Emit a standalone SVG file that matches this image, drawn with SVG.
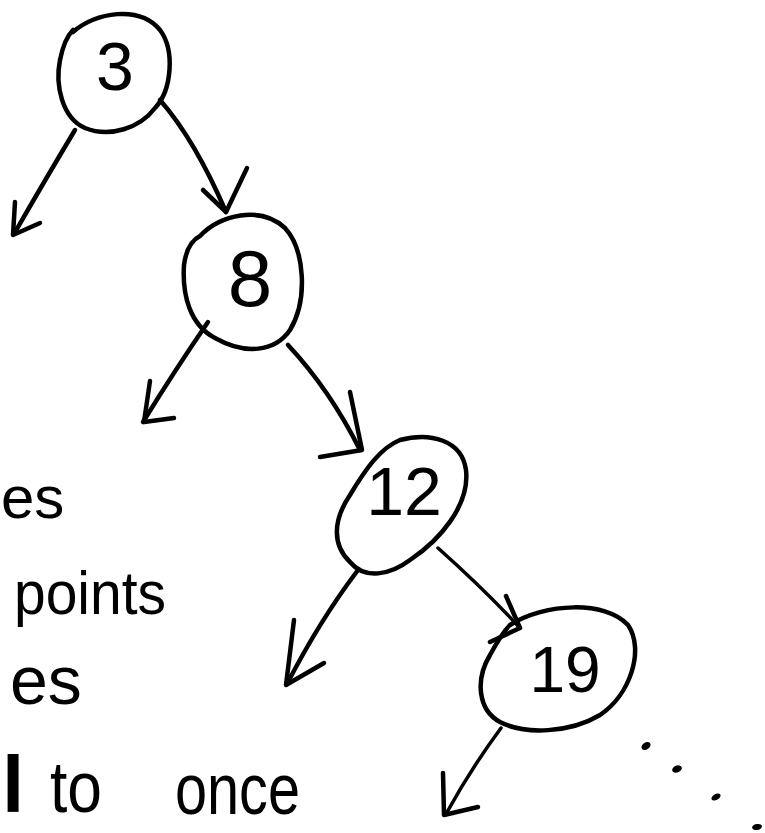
<svg xmlns="http://www.w3.org/2000/svg" width="765" height="833" viewBox="0 0 765 833">
  <style>
    .ink { fill: none; stroke: #000; stroke-width: 4.5; stroke-linecap: round; stroke-linejoin: round; }
    .thin { fill: none; stroke: #000; stroke-width: 3.5; stroke-linecap: round; stroke-linejoin: round; }
    .num { font-family: "Liberation Sans", "DejaVu Sans", sans-serif; font-weight: normal; fill: #000; text-anchor: middle; }
    .note { font-family: "Liberation Sans", "DejaVu Sans", sans-serif; fill: #000; }
  </style>
  <rect width="765" height="833" fill="#fff"/>

  <!-- edges -->
  <g id="connectors">
    <!-- 3 -> left (null) -->
    <path class="ink" d="M75,130 Q45,180 14,234"/>
    <path class="ink" d="M15,202 L13,235 L40,223"/>
    <!-- 3 -> 8 -->
    <path class="ink" d="M160,100 Q195,140 226,212"/>
    <path class="ink" d="M203,190 L226,212 L247,168"/>
    <!-- 8 -> left (null) -->
    <path class="ink" d="M208,322 Q175,370 143,422"/>
    <path class="ink" d="M150,381 L144,422 L174,418"/>
    <!-- 8 -> 12 -->
    <path class="ink" d="M288,345 Q330,390 360,450"/>
    <path class="ink" d="M350,392 L362,450 L320,457"/>
    <!-- 12 -> left (null) -->
    <path class="ink" d="M358,570 Q320,620 287,684"/>
    <path class="ink" d="M294,620 L286,685 L324,663"/>
    <!-- 12 -> 19 -->
    <path class="thin" d="M438,548 Q485,590 520,628"/>
    <path class="ink" d="M506,596 L520,628 L490,642"/>
    <!-- 19 -> left (null) -->
    <path class="thin" d="M501,728 Q470,770 446,814"/>
    <path class="ink" d="M443,773 L444,815 L478,807"/>
  </g>

  <!-- nodes -->
  <g id="node-3">
    <path class="ink" d="M73,32 C95,12 140,5 160,30 C175,50 172,90 155,108 C140,128 110,138 85,128 C62,118 55,85 60,60 C63,45 68,35 73,30"/>
    <text class="num" x="115" y="90" font-size="68">3</text>
  </g>
  <g id="node-8">
    <path class="ink" d="M200,236 C220,215 260,205 285,228 C305,250 308,300 290,330 C275,352 245,355 215,338 C190,325 182,295 184,265 C186,250 192,240 200,236"/>
    <text class="num" x="250" y="306" font-size="80">8</text>
  </g>
  <g id="node-12">
    <path class="ink" d="M400,440 C430,432 462,440 466,470 C470,505 440,540 410,560 C390,575 365,580 350,562 C332,545 333,520 350,495 C365,470 380,448 400,440"/>
    <text class="num" x="404" y="515" font-size="68">12</text>
  </g>
  <g id="node-19">
    <path class="ink" d="M510,625 C545,603 605,600 628,625 C645,650 630,695 600,715 C570,733 525,735 500,722 C478,710 475,680 490,655 C497,642 503,632 510,625"/>
    <text class="num" x="565" y="692" font-size="64">19</text>
  </g>

  <!-- trailing dots -->
  <g id="ellipsis" fill="#000">
    <ellipse cx="646" cy="746" rx="5" ry="3.5" transform="rotate(-35 646 746)"/>
    <ellipse cx="677" cy="769" rx="5" ry="3.5" transform="rotate(-20 677 769)"/>
    <ellipse cx="716" cy="797" rx="5" ry="3" transform="rotate(-30 716 797)"/>
    <ellipse cx="757" cy="827" rx="5" ry="3" transform="rotate(-10 757 827)"/>
  </g>

  <!-- side notes -->
  <g id="notes">
    <text class="note" x="1" y="518" font-size="60">es</text>
    <text class="note" x="14" y="614" font-size="62" textLength="152" lengthAdjust="spacingAndGlyphs">points</text>
    <text class="note" x="10" y="704" font-size="68">es</text>
    <text class="note" x="2" y="812" font-size="80" font-weight="bold">l</text>
    <text class="note" x="50" y="812" font-size="72" textLength="52" lengthAdjust="spacingAndGlyphs">to</text>
    <text class="note" x="175" y="814" font-size="72" textLength="125" lengthAdjust="spacingAndGlyphs">once</text>
  </g>
</svg>
